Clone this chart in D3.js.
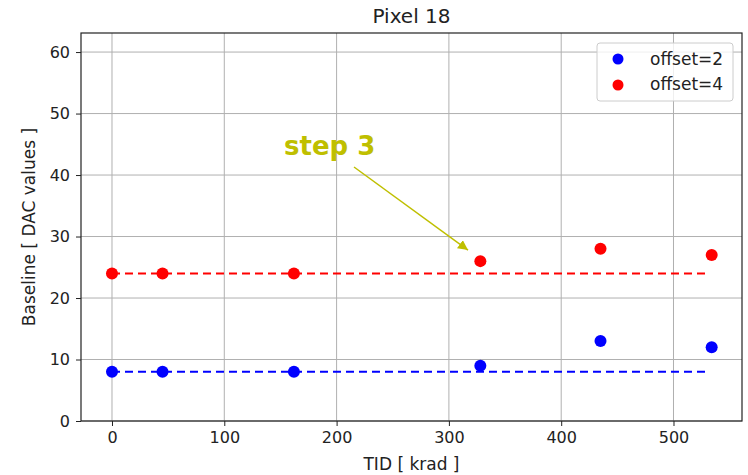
<!DOCTYPE html>
<html>
<head>
<meta charset="utf-8">
<script src="https://cdn.jsdelivr.net/npm/d3@7"></script>
<style>
  body { margin: 0; background: #fff; }
  text { font-family: "DejaVu Sans", sans-serif; fill: #222; }
</style>
</head>
<body>
<div id="chart"></div>
<script>
// data
var tid = [0, 45, 162, 328, 435, 534];
var offset2 = [8, 8, 8, 9, 13, 12];
var offset4 = [24, 24, 24, 26, 28, 27];
var baseline2 = 8, baseline4 = 24;
var lineRange = [0, 530];
var xTicks = [0, 100, 200, 300, 400, 500];
var yTicks = [0, 10, 20, 30, 40, 50, 60];

var w = 748, h = 475;
// plot box (note: "top" is a reserved window global, so use a prefix)
var pLeft = 81, pRight = 742, pTop = 33, pBottom = 421;

var svg = d3.select("#chart").append("svg")
    .attr("width", w).attr("height", h);

var x = d3.scaleLinear().domain([-27.6, 561]).range([pLeft, pRight]);
var y = d3.scaleLinear().domain([0, 63.1]).range([pBottom, pTop]);

// grid
svg.append("g").selectAll("line").data(xTicks).join("line")
    .attr("x1", d => x(d)).attr("x2", d => x(d))
    .attr("y1", pTop).attr("y2", pBottom)
    .attr("stroke", "#b0b0b0").attr("stroke-width", 1);
svg.append("g").selectAll("line").data(yTicks).join("line")
    .attr("x1", pLeft).attr("x2", pRight)
    .attr("y1", d => y(d)).attr("y2", d => y(d))
    .attr("stroke", "#b0b0b0").attr("stroke-width", 1);

// axes
var xAxis = svg.append("g")
    .attr("transform", "translate(0," + pBottom + ")")
    .call(d3.axisBottom(x).tickValues(xTicks).tickSize(5).tickPadding(6));
var yAxis = svg.append("g")
    .attr("transform", "translate(" + pLeft + ",0)")
    .call(d3.axisLeft(y).tickValues(yTicks).tickSize(5).tickPadding(6));
[xAxis, yAxis].forEach(function (a) {
  a.select(".domain").remove();
  a.selectAll("text").style("font-size", "16px").attr("fill", "#222");
  a.selectAll("line").attr("stroke", "#222");
});

// frame
svg.append("rect")
    .attr("x", pLeft).attr("y", pTop)
    .attr("width", pRight - pLeft).attr("height", pBottom - pTop)
    .attr("fill", "none").attr("stroke", "#222").attr("stroke-width", 1.2);

// dashed reference lines
[[baseline2, "blue"], [baseline4, "red"]].forEach(function (b) {
  svg.append("line")
      .attr("x1", x(lineRange[0])).attr("x2", x(lineRange[1]))
      .attr("y1", y(b[0])).attr("y2", y(b[0]))
      .attr("stroke", b[1]).attr("stroke-width", 2)
      .attr("stroke-dasharray", "8,5");
});

// points
[[offset2, "blue"], [offset4, "red"]].forEach(function (s) {
  svg.append("g").selectAll("circle").data(s[0]).join("circle")
      .attr("cx", (d, i) => x(tid[i]))
      .attr("cy", d => y(d))
      .attr("r", 6)
      .attr("fill", s[1]);
});

// annotation
svg.append("defs").append("marker")
    .attr("id", "arr").attr("viewBox", "0 0 10 10")
    .attr("refX", 10).attr("refY", 5)
    .attr("markerWidth", 10).attr("markerHeight", 10)
    .attr("markerUnits", "userSpaceOnUse")
    .attr("orient", "auto")
  .append("path").attr("d", "M0,0L10,5L0,10z").attr("fill", "#bfbf00");
svg.append("line")
    .attr("x1", 354).attr("y1", 167)
    .attr("x2", x(317)).attr("y2", y(27.8))
    .attr("stroke", "#bfbf00").attr("stroke-width", 1.5)
    .attr("marker-end", "url(#arr)");
svg.append("text")
    .attr("x", 284).attr("y", 155)
    .style("font-size", "26px").style("font-weight", "bold")
    .style("fill", "#bfbf00")
    .text("step 3");

// title and labels
svg.append("text").attr("x", (pLeft + pRight) / 2).attr("y", 23)
    .attr("text-anchor", "middle").style("font-size", "20px").text("Pixel 18");
svg.append("text").attr("x", (pLeft + pRight) / 2).attr("y", 470)
    .attr("text-anchor", "middle").style("font-size", "17px").text("TID [ krad ]");
svg.append("text")
    .attr("transform", "translate(35," + (pTop + pBottom) / 2 + ") rotate(-90)")
    .attr("text-anchor", "middle").style("font-size", "17px")
    .text("Baseline [ DAC values ]");

// legend
var lg = svg.append("g").attr("transform", "translate(597,43)");
lg.append("rect").attr("width", 136).attr("height", 58).attr("rx", 3)
    .attr("fill", "#fff").attr("fill-opacity", 0.8)
    .attr("stroke", "#ccc");
[["offset=2", "blue"], ["offset=4", "red"]].forEach(function (e, i) {
  lg.append("circle").attr("cx", 21).attr("cy", 16 + i * 26).attr("r", 5.5).attr("fill", e[1]);
  lg.append("text").attr("x", 53).attr("y", 22 + i * 25)
      .style("font-size", "17px").text(e[0]);
});
</script>
</body>
</html>
